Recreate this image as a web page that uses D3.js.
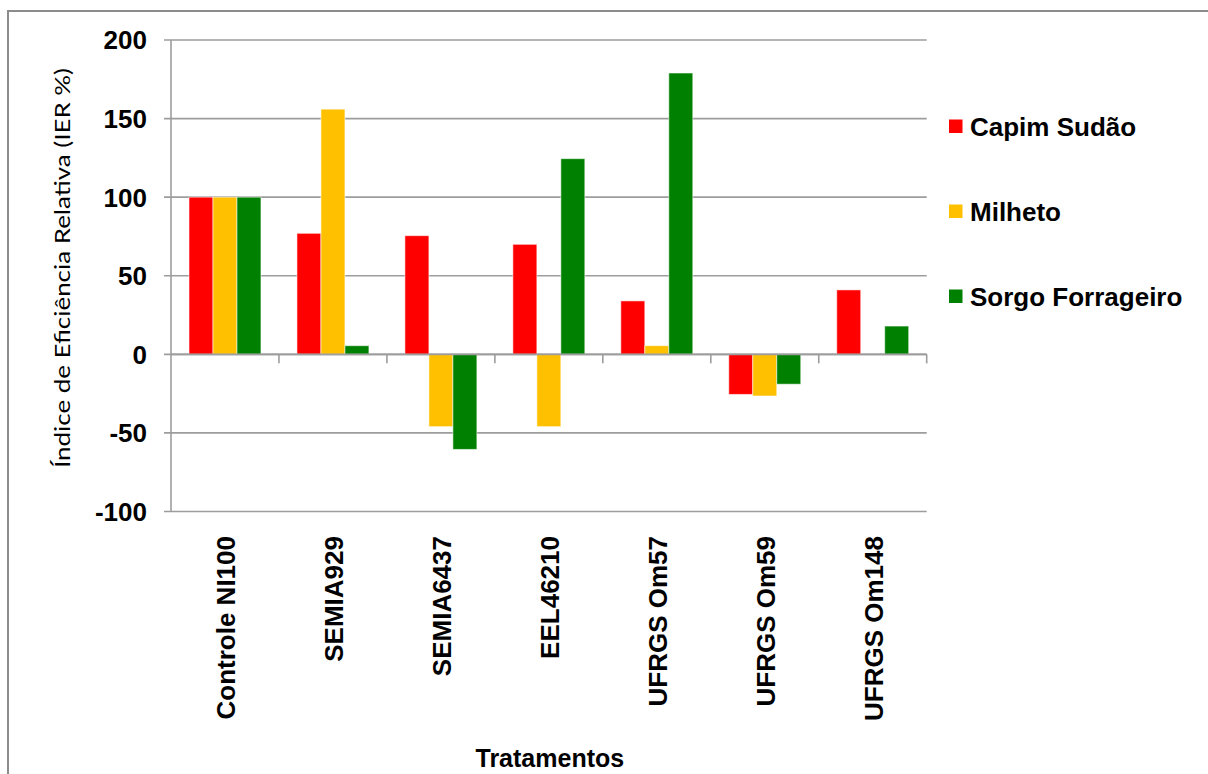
<!DOCTYPE html>
<html>
<head>
<meta charset="utf-8">
<script src="https://cdn.jsdelivr.net/npm/d3@7"></script>
<style>
  html, body { margin: 0; padding: 0; background: #fff; }
  svg { display: block; }
</style>
</head>
<body>
<svg id="chart" width="1208" height="774"></svg>
<script>
// Treatments (x categories)
const categories = ["Controle NI100", "SEMIA929", "SEMIA6437", "EEL46210", "UFRGS Om57", "UFRGS Om59", "UFRGS Om148"];
// Series names and colours
const seriesNames = ["Capim Sudão", "Milheto", "Sorgo Forrageiro"];
const seriesColors = ["#FF0000", "#FFC000", "#008000"];
// Relative efficiency index (IER %) per series, in category order
const capimSudao = [100, 77, 75.5, 70, 34, -25.5, 41];
const milheto = [100, 156, -46, -46, 5.5, -26.5, 0];
const sorgoForrageiro = [100, 5.5, -60.5, 124.5, 179, -19, 18];
// Y-axis ticks
const yTicks = [-100, -50, 0, 50, 100, 150, 200];

const seriesValues = [capimSudao, milheto, sorgoForrageiro];

const svg = d3.select("#chart");
const FONT = "'Liberation Sans', Arial, sans-serif";

// Outer chart frame
svg.append("rect")
  .attr("x", 8).attr("y", 11)
  .attr("width", 1230).attr("height", 800)
  .attr("fill", "none")
  .attr("stroke", "#8c8c8c")
  .attr("stroke-width", 2);

const plot = { left: 171, right: 926.7, top: 40, bottom: 511.5 };

const y = d3.scaleLinear().domain([-100, 200]).range([plot.bottom, plot.top]);
const x0 = d3.scaleBand().domain(categories).range([plot.left, plot.right]).padding(0);
const x1 = d3.scaleBand().domain(seriesNames).range([0, x0.bandwidth()])
  .paddingInner(0).paddingOuter(0.75);

// Horizontal gridlines with left tick marks
svg.append("g")
  .selectAll("line")
  .data(yTicks)
  .join("line")
  .attr("x1", plot.left - 7)
  .attr("x2", plot.right)
  .attr("y1", d => y(d))
  .attr("y2", d => y(d))
  .attr("stroke", "#9d9d9d")
  .attr("stroke-width", 1.6);

// Y-axis line
svg.append("line")
  .attr("x1", plot.left).attr("x2", plot.left)
  .attr("y1", plot.top).attr("y2", plot.bottom)
  .attr("stroke", "#9d9d9d")
  .attr("stroke-width", 1.6);

// Y tick labels
svg.append("g")
  .selectAll("text")
  .data(yTicks)
  .join("text")
  .attr("x", 147)
  .attr("y", d => y(d))
  .attr("dy", "0.36em")
  .attr("text-anchor", "end")
  .attr("font-family", FONT)
  .attr("font-weight", "bold")
  .attr("font-size", 26)
  .attr("fill", "#000")
  .text(d => d);

// Bars
const groups = svg.append("g")
  .selectAll("g")
  .data(categories)
  .join("g")
  .attr("transform", d => `translate(${x0(d)},0)`);

groups.selectAll("rect")
  .data((c, i) => seriesNames.map((s, k) => ({ series: s, k, value: seriesValues[k][i] })))
  .join("rect")
  .attr("x", d => x1(d.series))
  .attr("width", x1.bandwidth())
  .attr("y", d => Math.min(y(d.value), y(0)))
  .attr("height", d => Math.abs(y(d.value) - y(0)))
  .attr("fill", d => seriesColors[d.k])
  .attr("stroke", "rgba(255,255,255,0.55)")
  .attr("stroke-width", 1);

// X axis along zero with category boundary ticks
svg.append("line")
  .attr("x1", plot.left).attr("x2", plot.right)
  .attr("y1", y(0)).attr("y2", y(0))
  .attr("stroke", "#9d9d9d")
  .attr("stroke-width", 1.6);

const boundaries = categories.map(c => x0(c) + x0.bandwidth());
svg.append("g")
  .selectAll("line")
  .data(boundaries)
  .join("line")
  .attr("x1", d => d).attr("x2", d => d)
  .attr("y1", y(0)).attr("y2", y(0) + 9)
  .attr("stroke", "#9d9d9d")
  .attr("stroke-width", 1.6);

// Category labels (rotated)
svg.append("g")
  .selectAll("text")
  .data(categories)
  .join("text")
  .attr("transform", d => `translate(${x0(d) + x0.bandwidth() / 2 + 1},536) rotate(-90)`)
  .attr("dy", "0.35em")
  .attr("text-anchor", "end")
  .attr("font-family", FONT)
  .attr("font-weight", "bold")
  .attr("font-size", 26)
  .attr("fill", "#000")
  .text(d => d);

// X-axis title
svg.append("text")
  .attr("x", (plot.left + plot.right) / 2 + 1)
  .attr("y", 767)
  .attr("text-anchor", "middle")
  .attr("font-family", FONT)
  .attr("font-weight", "bold")
  .attr("font-size", 25)
  .attr("fill", "#000")
  .text("Tratamentos");

// Y-axis title
svg.append("text")
  .attr("transform", "translate(62,268) rotate(-90)")
  .attr("text-anchor", "middle")
  .attr("dy", "0.35em")
  .attr("font-family", "Lato, 'Open Sans', sans-serif")
  .attr("font-size", 22)
  .attr("fill", "#000")
  .attr("textLength", 400)
  .attr("lengthAdjust", "spacingAndGlyphs")
  .text("Índice de Eficiência Relativa (IER %)");

// Legend
const legend = svg.append("g")
  .selectAll("g")
  .data(seriesNames)
  .join("g")
  .attr("transform", (d, i) => `translate(949,${119.5 + i * 85})`);

legend.append("rect")
  .attr("width", 13.5).attr("height", 13.5)
  .attr("fill", (d, i) => seriesColors[i]);

legend.append("text")
  .attr("x", 21)
  .attr("y", 7)
  .attr("dy", "0.36em")
  .attr("font-family", FONT)
  .attr("font-weight", "bold")
  .attr("font-size", 26)
  .attr("fill", "#000")
  .text(d => d);
</script>
</body>
</html>
